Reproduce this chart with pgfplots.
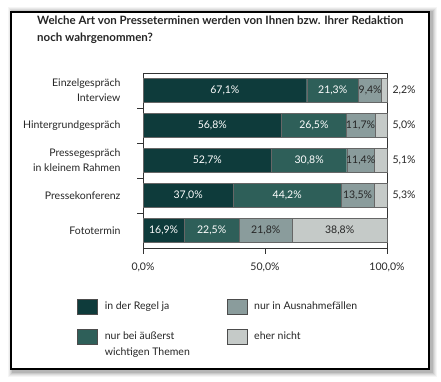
\documentclass[border=0pt]{standalone}
\usepackage{pgfplots}
\pgfplotsset{compat=1.18}
\usepackage{pgfplotstable}
\usepackage{fontspec}
\setmainfont{Lato}

\definecolor{cA}{HTML}{0E3B3B}
\definecolor{cB}{HTML}{2E5F59}
\definecolor{cC}{HTML}{8A9C9C}
\definecolor{cD}{HTML}{C5CAC8}

% a = in der Regel ja, b = nur bei äußerst wichtigen Themen,
% c = nur in Ausnahmefällen, d = eher nicht
\pgfplotstableread{
cat a b c d
0 67.1 21.3 9.4 2.2
1 56.8 26.5 11.7 5.0
2 52.7 30.8 11.4 5.1
3 37.0 44.2 13.5 5.3
4 16.9 22.5 21.8 38.8
}\data

\pgfplotsset{
  geom/.style={
    at={(143pt,134.2pt)}, anchor=south west,
    scale only axis, width=244pt, height=175pt,
    xmin=0, xmax=100, ymin=-0.5, ymax=4.5, y dir=reverse,
  },
}

\begin{document}
\begin{tikzpicture}[x=1pt,y=1pt]
\path[use as bounding box] (0,0) rectangle (441,382);
% shadow
\foreach \i/\o in {0/0.10,1/0.08,2/0.06,3/0.05,4/0.04} {
  \fill[black, opacity=\o] (11+1-\i, 13-4-\i) rectangle (429+4+\i, 372-1+\i);
}
\draw[line width=2.5pt, fill=white] (11,13) rectangle (429,370);
\node[anchor=base west, align=left, font=\fontsize{11.5}{17}\selectfont\bfseries, inner sep=0pt, text=black!85]
  at (37,340) {Welche Art von Presseterminen werden von Ihnen bzw. Ihrer Redaktion\\noch wahrgenommen?};
\begin{axis}[
  geom,
  xbar stacked, bar width=23.5pt,
  xtick={0,50,100}, xticklabels={{0,0\%},{50,0\%},{100,0\%}},
  ytick={0,1,2,3,4},
  yticklabels={{Einzelgespräch\\Interview},{Hintergrundgespräch},{Pressegespräch\\in kleinem Rahmen},{Pressekonferenz},{Fototermin}},
  minor ytick={0.5,1.5,2.5,3.5},
  tick align=outside, tick pos=left,
  major tick length=6pt, minor tick length=6pt,
  major y tick style={draw=none},
  tick style={black!80, line width=0.6pt},
  axis line style={black!80, line width=0.6pt},
  yticklabel style={align=right, font=\fontsize{10.5}{15}\selectfont, text=black!85, xshift=-13pt},
  xticklabel style={font=\fontsize{10.5}{13}\selectfont, text=black!85, yshift=-6pt},
  every axis plot/.append style={draw=black!60, line width=0.4pt},
  clip=false,
  legend style={at={(-0.282,-0.281)}, anchor=north west, draw=none, fill=none,
     legend columns=2, font=\fontsize{10.5}{13}\selectfont, text=black!85,
     /tikz/every odd column/.append style={column sep=5pt},
     /tikz/every even column/.append style={column sep=35pt},
     /tikz/row sep=14pt},
  legend cell align=left,
  legend image code/.code={\draw[#1, draw=black!70] (0pt,-7.5pt) rectangle (20pt,7.5pt);},
]
\addplot[fill=cA, forget plot] table[x=a,y=cat] {\data};
\addplot[fill=cB, forget plot] table[x=b,y=cat] {\data};
\addplot[fill=cC, forget plot] table[x=c,y=cat] {\data};
\addplot[fill=cD, forget plot] table[x=d,y=cat] {\data};
\addlegendimage{fill=cA}
\addlegendentry{in der Regel ja}
\addlegendimage{fill=cC}
\addlegendentry{nur in Ausnahmefällen}
\addlegendimage{fill=cB}
\addlegendentry{\smash{\raisebox{-4pt}{\begin{tabular}[t]{@{}l@{}}nur bei äußerst\\[3pt]wichtigen Themen\end{tabular}}}}
\addlegendimage{fill=cD}
\addlegendentry{eher nicht}
\end{axis}
% value labels, placed in the middle of each segment (small "eher nicht" values beside the bar)
\begin{axis}[
  geom, hide axis, clip=false,
  point meta=explicit,
  nodes near coords={\pgfmathprintnumber[fixed,fixed zerofill,precision=1,use comma,assume math mode=true]{\pgfplotspointmeta}\%},
  every node near coord/.append style={anchor=center, font=\fontsize{10.5}{13}\selectfont, inner sep=0pt},
]
\addplot[draw=none, mark=none, every node near coord/.append style={text=white}]
  table[x expr=0.5*\thisrow{a}, y=cat, meta=a] {\data};
\addplot[draw=none, mark=none, every node near coord/.append style={text=white}]
  table[x expr=\thisrow{a}+0.5*\thisrow{b}, y=cat, meta=b] {\data};
\addplot[draw=none, mark=none, every node near coord/.append style={text=black!85}]
  table[x expr=\thisrow{a}+\thisrow{b}+0.5*\thisrow{c}, y=cat, meta=c] {\data};
\addplot[draw=none, mark=none, every node near coord/.append style={text=black!85}]
  table[x expr={\thisrow{d}<10 ? 107 : \thisrow{a}+\thisrow{b}+\thisrow{c}+0.5*\thisrow{d}}, y=cat, meta=d] {\data};
\end{axis}
\end{tikzpicture}
\end{document}
